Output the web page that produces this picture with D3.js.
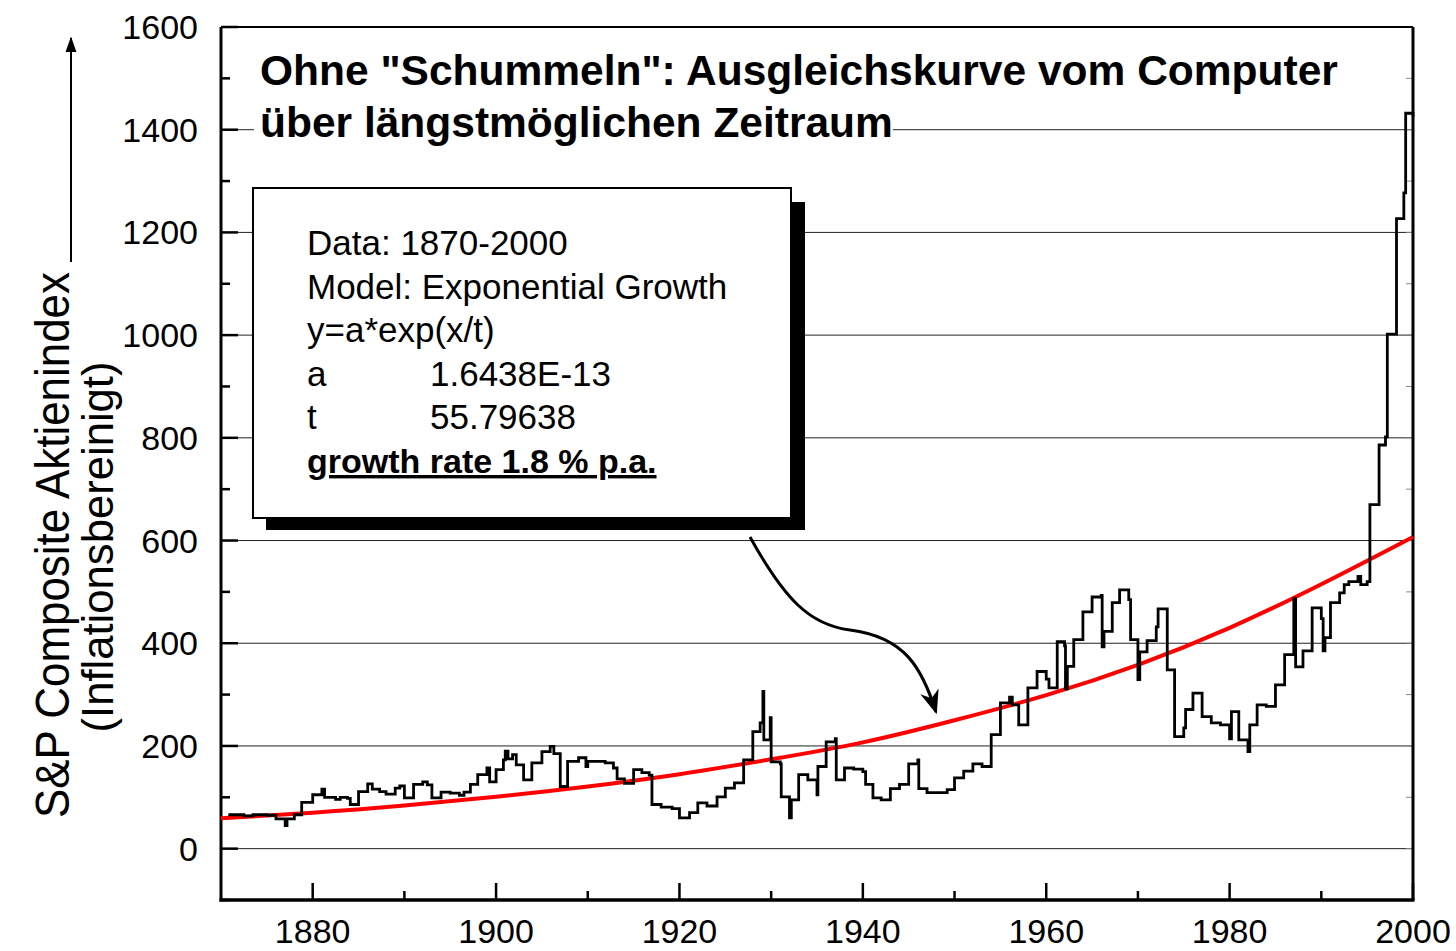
<!DOCTYPE html>
<html><head><meta charset="utf-8">
<script src="https://cdn.jsdelivr.net/npm/d3@7/dist/d3.min.js"></script>
<style>body{margin:0;background:#fff}svg{display:block}</style>
</head><body>
<svg id="c" width="1456" height="951"></svg>
<script>
// ---- data ----
const years = [1870.8,1872.5,1873.5,1875,1876,1877,1877.2,1878,1878.8,1880,1881,1881.3,1882.5,1883,1883.8,1884.1,1885,1886,1886.5,1887.3,1888,1889,1889.5,1890,1891,1892,1892.5,1893,1894,1895,1896,1896.5,1897.2,1898,1899,1899.3,1900,1900.8,1901,1901.3,1901.8,1902.2,1903,1903.9,1905,1905.9,1906.3,1907,1907.8,1909,1909.8,1910,1911,1911.9,1912.8,1913.2,1914,1915,1915.9,1916.7,1917,1918,1919.2,1920,1921.1,1922,1923,1924.1,1925,1926,1927,1928,1928.8,1929.1,1929.2,1929.9,1930,1931,1931.1,1932,1932.2,1933,1934,1935,1935.1,1936,1937,1937.1,1938,1939,1940,1940.3,1941.1,1942,1943,1944,1945,1946,1946.1,1947,1948,1949.2,1950,1951,1952,1953,1954,1955,1956,1956.3,1957,1958,1959,1960,1960.3,1961.2,1962,1962.1,1962.3,1963,1964,1965,1966,1966.1,1966.3,1967.2,1968,1969,1969.2,1970,1970.2,1971,1972,1972.2,1973,1973.2,1974,1975,1975.2,1976,1977,1978,1979,1980,1980.2,1981,1982,1982.2,1983,1984,1985,1986,1987,1987.2,1988,1989,1990,1990.2,1990.4,1991,1992,1992.5,1993,1994,1994.3,1995,1995.3,1996,1996.3,1997,1997.2,1998,1998.2,1999,1999.2,2000];
const index = [66,64,66,65,58,45,58,66,90,105,116,100,96,100,98,86,111,126,116,111,106,118,122,99,125,130,124,99,110,108,104,110,125,144,157,130,154,173,190,175,183,163,134,167,189,199,185,121,170,177,160,170,170,167,157,136,127,154,148,143,86,81,78,60,70,89,83,101,118,128,173,228,245,306,212,255,169,165,101,60,95,144,134,105,160,208,214,134,157,155,150,125,99,95,117,125,165,173,117,109,109,115,138,151,165,160,222,284,295,280,241,313,345,330,313,403,395,311,355,407,461,490,493,393,423,479,504,485,407,329,383,405,432,467,467,348,218,235,271,303,257,245,241,214,267,212,189,241,280,277,319,378,487,354,385,469,448,385,411,479,498,514,520,530,514,520,670,670,786,802,1002,1002,1227,1277,1432,1425];
const fitYears = [1870,1880,1890,1900,1910,1920,1930,1940,1950,1960,1970,1980,1990,2000];
const fitValues = [59,70,84,101,121,145,174,207,250,299,358,430,515,607];
const yTicks = [0,200,400,600,800,1000,1200,1400,1600];
const yMinor = [-100,100,300,500,700,900,1100,1300,1500];
const xTicks = [1880,1900,1920,1940,1960,1980,2000];
const xMinor = [1890,1910,1930,1950,1970,1990];
const titleLines = ['Ohne "Schummeln": Ausgleichskurve vom Computer','über längstmöglichen Zeitraum'];
const boxLabels = ['Data: 1870-2000','Model: Exponential Growth','y=a*exp(x/t)','a','t'];
const boxValues = ['','','','1.6438E-13','55.79638'];
const boxFooter = 'growth rate 1.8 % p.a.';
const yLabel1 = 'S&P Composite Aktienindex';
const yLabel2 = '(Inflationsbereinigt)';

// ---- layout ----
const L=221, R=1413, T=27, B=900;
const svg = d3.select('#c');
const x = d3.scaleLinear().domain([1870,2000]).range([L,R]);
const y = d3.scaleLinear().domain([-100,1600]).range([B,T]);
const font = '"Liberation Sans", Arial, sans-serif';

// gridlines
svg.append('g').selectAll('line').data(yTicks.filter(v=>v<1600)).join('line')
  .attr('x1',L).attr('x2',R).attr('y1',d=>y(d)).attr('y2',d=>y(d))
  .attr('stroke','#222').attr('stroke-width',1);

// left axis ticks (inward)
const gl = svg.append('g');
gl.selectAll('.maj').data(yTicks).join('line').attr('class','maj').attr('x1',L).attr('x2',L+17)
  .attr('y1',d=>y(d)).attr('y2',d=>y(d)).attr('stroke','#000').attr('stroke-width',2.5);
gl.selectAll('.min').data(yMinor).join('line').attr('class','min').attr('x1',L).attr('x2',L+9)
  .attr('y1',d=>y(d)).attr('y2',d=>y(d)).attr('stroke','#000').attr('stroke-width',2.5);
gl.selectAll('text').data(yTicks).join('text').attr('x',198).attr('y',d=>y(d)+12)
  .attr('text-anchor','end').attr('font-family',font).attr('font-size',34).text(d=>d);
// right axis ticks
const gr = svg.append('g');
gr.selectAll('.rm').data(yTicks.concat(yMinor)).join('line').attr('x1',R).attr('x2',R-7)
  .attr('y1',d=>y(d)).attr('y2',d=>y(d)).attr('stroke','#888').attr('stroke-width',1);

// bottom axis ticks
const gb = svg.append('g');
gb.selectAll('.maj').data(xTicks).join('line').attr('class','maj').attr('x1',d=>x(d)).attr('x2',d=>x(d))
  .attr('y1',B).attr('y2',B-17).attr('stroke','#000').attr('stroke-width',2.5);
gb.selectAll('.min').data(xMinor).join('line').attr('class','min').attr('x1',d=>x(d)).attr('x2',d=>x(d))
  .attr('y1',B).attr('y2',B-9).attr('stroke','#000').attr('stroke-width',2.5);
gb.selectAll('text').data(xTicks).join('text').attr('x',d=>x(d)).attr('y',943)
  .attr('text-anchor','middle').attr('font-family',font).attr('font-size',34).text(d=>d);

// frame
svg.append('line').attr('x1',L).attr('x2',L).attr('y1',T).attr('y2',B+1.5).attr('stroke','#000').attr('stroke-width',3);
svg.append('line').attr('x1',L-1.5).attr('x2',R+1.5).attr('y1',B).attr('y2',B).attr('stroke','#000').attr('stroke-width',3.5);
svg.append('line').attr('x1',R).attr('x2',R).attr('y1',T).attr('y2',B).attr('stroke','#000').attr('stroke-width',3);
svg.append('line').attr('x1',L).attr('x2',R).attr('y1',T).attr('y2',T).attr('stroke','#000').attr('stroke-width',2);

// fit curve
const fit = fitYears.map((d,i)=>[d,fitValues[i]]);
svg.append('path').attr('d', d3.line().x(d=>x(d[0])).y(d=>y(d[1])).curve(d3.curveNatural)(fit))
  .attr('fill','none').attr('stroke','#ff0000').attr('stroke-width',4);

// data line
const pts = years.map((d,i)=>[d,index[i]]);
svg.append('path').attr('d', d3.line().x(d=>x(d[0])).y(d=>y(d[1])).curve(d3.curveStepAfter)(pts))
  .attr('fill','none').attr('stroke','#000').attr('stroke-width',2.8).attr('stroke-linejoin','miter');

// title
const tg = svg.append('g');
titleLines.forEach((t,i)=>{
  const tx = tg.append('text').attr('x',260).attr('y',85+i*52).attr('font-family',font)
    .attr('font-weight','bold').attr('font-size',42.5).text(t);
  if(i===1){
    const bb = tx.node().getBBox();
    tg.insert('rect','text').attr('x',bb.x-6).attr('y',bb.y).attr('width',bb.width+6).attr('height',bb.height).attr('fill','#fff');
  }
});

// info box with shadow
svg.append('rect').attr('x',266).attr('y',202).attr('width',539).attr('height',328).attr('fill','#000');
svg.append('rect').attr('x',253).attr('y',188).attr('width',538).attr('height',330).attr('fill','#fff')
  .attr('stroke','#000').attr('stroke-width',2);
const bg = svg.append('g').attr('font-family',font).attr('font-size',35);
boxLabels.forEach((t,i)=>{
  bg.append('text').attr('x',307).attr('y',255+i*43.6).text(t);
  if(boxValues[i]) bg.append('text').attr('x',430).attr('y',255+i*43.6).text(boxValues[i]);
});
bg.append('text').attr('x',307).attr('y',255+5*43.6).attr('font-weight','bold').attr('font-size',34)
  .attr('text-decoration','underline').text(boxFooter);

// annotation arrow
const defs = svg.append('defs');
defs.append('marker').attr('id','ah').attr('viewBox','0 0 10 10').attr('refX',9).attr('refY',5)
  .attr('markerWidth',24).attr('markerHeight',24).attr('markerUnits','userSpaceOnUse').attr('orient','auto')
  .append('path').attr('d','M0,1 L10,5 L0,9 L3,5 Z').attr('fill','#000');
svg.append('path').attr('d','M750,537 C785,600 810,625 850,630 C905,637 922,668 936,712')
  .attr('fill','none').attr('stroke','#000').attr('stroke-width',3).attr('marker-end','url(#ah)');

// y-axis title with arrow
const yl = svg.append('g').attr('font-family','"Liberation Sans Narrow", "Arial Narrow", '+font);
yl.append('text').attr('transform','translate(69,545) rotate(-90)').attr('text-anchor','middle')
  .attr('font-size',49).attr('textLength',546).attr('lengthAdjust','spacingAndGlyphs').text(yLabel1);
yl.append('text').attr('transform','translate(113,547) rotate(-90)').attr('text-anchor','middle')
  .attr('font-size',45).attr('textLength',371).attr('lengthAdjust','spacingAndGlyphs').text(yLabel2);
defs.append('marker').attr('id','ah2').attr('viewBox','0 0 10 10').attr('refX',9).attr('refY',5)
  .attr('markerWidth',16).attr('markerHeight',16).attr('markerUnits','userSpaceOnUse').attr('orient','auto')
  .append('path').attr('d','M0,1.5 L10,5 L0,8.5 Z').attr('fill','#000');
svg.append('line').attr('x1',71).attr('x2',71).attr('y1',262).attr('y2',38)
  .attr('stroke','#000').attr('stroke-width',2).attr('marker-end','url(#ah2)');
</script>
</body></html>
